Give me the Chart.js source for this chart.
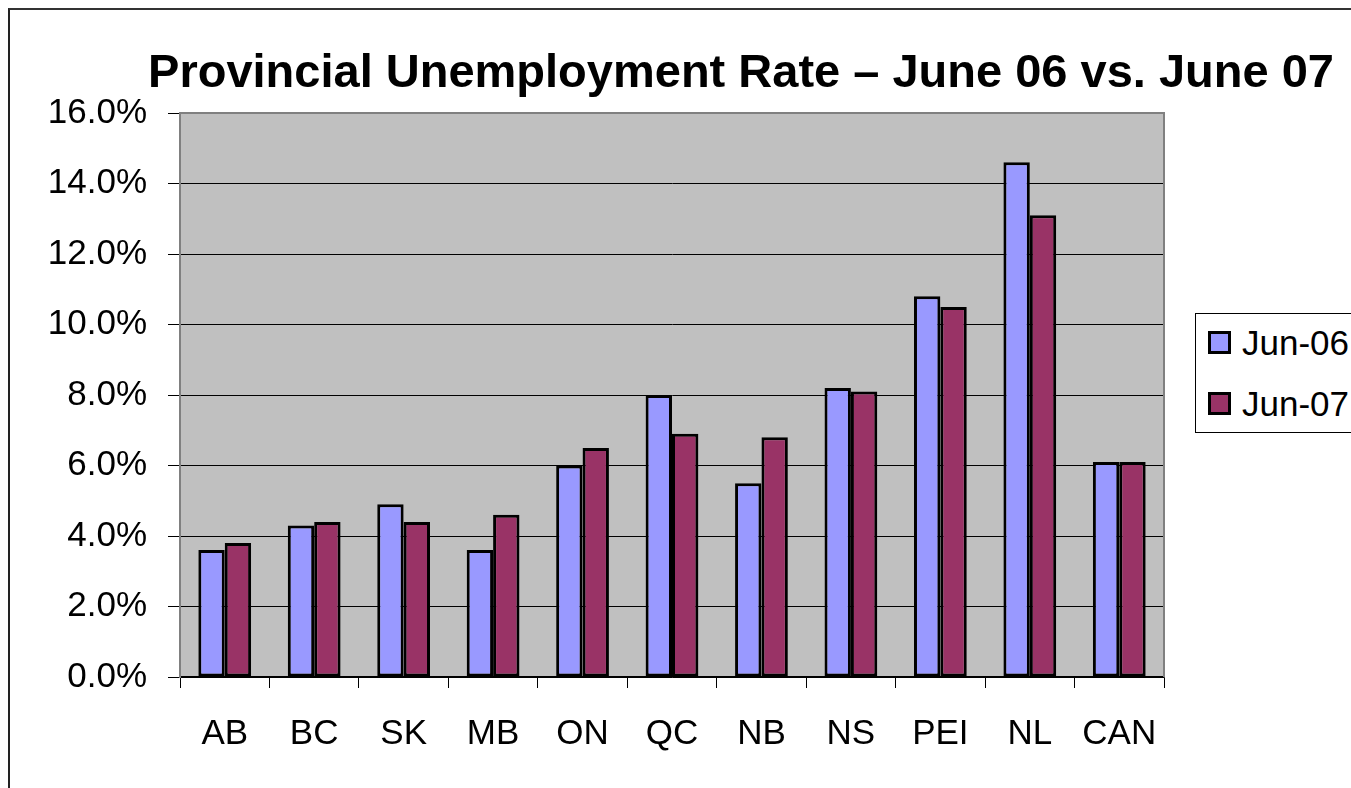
<!DOCTYPE html>
<html>
<head>
<meta charset="utf-8">
<title>Provincial Unemployment Rate</title>
<script src="https://cdn.jsdelivr.net/npm/chart.js@4.4.1/dist/chart.umd.min.js"></script>
<style>
  body { margin: 0; background: #fff; font-family: "Liberation Sans", Arial, sans-serif; }
  #wrap { position: relative; width: 1351px; height: 788px; overflow: hidden; }
  #frame { position: absolute; left: 8px; top: 8px; width: 1400px; height: 800px; border-left: 2px solid #222; border-top: 2px solid #333; }
  #chart { position: absolute; left: 0; top: 0; }
  #title { position: absolute; left: 741px; top: 47px; transform: translateX(-50%); white-space: nowrap;
           font-size: 47px; line-height: 47px; font-weight: bold; color: #000; }
  #legend { position: absolute; left: 1195px; top: 313px; width: 200px; height: 120px; border: 1px solid #000;
            padding-top: 11px; box-sizing: border-box; background: #fff; }
  .item { height: 35px; display: flex; align-items: center; font-size: 35px; color: #000; }
  .item:first-child { margin-bottom: 26px; }
  .swatch { width: 17px; height: 17px; border: 3px solid #000; margin-left: 12px; margin-right: 11px; flex: none; }
</style>
</head>
<body>
<div id="wrap">
  <div id="frame"></div>
  <canvas id="chart" width="1351" height="788"></canvas>
  <div id="title">Provincial Unemployment Rate – June 06 vs. June 07</div>
  <div id="legend"></div>
</div>
<script>
const provinces = ['AB', 'BC', 'SK', 'MB', 'ON', 'QC', 'NB', 'NS', 'PEI', 'NL', 'CAN'];
const jun06 = [3.6, 4.3, 4.9, 3.6, 6.0, 8.0, 5.5, 8.2, 10.8, 14.6, 6.1];
const jun07 = [3.8, 4.4, 4.4, 4.6, 6.5, 6.9, 6.8, 8.1, 10.5, 13.1, 6.1];
const seriesLabels = ['Jun-06', 'Jun-07'];
const seriesColors = ['#9999FF', '#993366'];
const yMin = 0, yMax = 16, yStep = 2;

const font = "'Liberation Sans', Arial, sans-serif";

// grey plot area + grey frame on top/right like the old Excel chart
const plotArea = {
  id: 'plotArea',
  beforeDraw(chart) {
    const { ctx, chartArea: a } = chart;
    ctx.save();
    ctx.fillStyle = '#C0C0C0';
    ctx.fillRect(a.left, a.top, a.width, a.height);
    ctx.restore();
  },
  afterDraw(chart) {
    const { ctx, chartArea: a } = chart;
    ctx.save();
    ctx.strokeStyle = '#808080';
    ctx.lineWidth = 2;
    ctx.beginPath();
    ctx.moveTo(a.left, a.top);
    ctx.lineTo(a.right, a.top);
    ctx.lineTo(a.right, a.bottom);
    ctx.stroke();
    ctx.restore();
  }
};

const datasets = [jun06, jun07].map((d, i) => ({
  label: seriesLabels[i],
  data: d,
  backgroundColor: seriesColors[i],
  borderColor: '#000',
  borderWidth: 3,
  borderSkipped: false,
  categoryPercentage: 0.59,
  barPercentage: 1.0
}));

new Chart(document.getElementById('chart'), {
  type: 'bar',
  data: { labels: provinces, datasets: datasets },
  options: {
    responsive: false,
    animation: false,
    layout: { padding: { top: 113, right: 187, bottom: 0, left: 0 } },
    plugins: { legend: { display: false }, title: { display: false }, tooltip: { enabled: false } },
    scales: {
      x: {
        afterFit: s => { s.height = 111; },
        grid: { offset: true, drawOnChartArea: false, tickLength: 11, color: '#000', tickColor: '#000' },
        border: { color: '#000', width: 1.5 },
        ticks: { color: '#000', font: { family: font, size: 35 }, padding: 25 }
      },
      y: {
        min: yMin, max: yMax,
        afterFit: s => { s.width = 180; },
        grid: { color: '#000', lineWidth: 1, tickLength: 12, tickColor: '#000' },
        border: { color: '#808080', width: 2 },
        ticks: { stepSize: yStep, color: '#000', padding: 21, font: { family: font, size: 35 },
                 callback: v => v.toFixed(1) + '%' }
      }
    }
  },
  plugins: [plotArea]
});

const legend = document.getElementById('legend');
seriesLabels.forEach((lab, i) => {
  const row = document.createElement('div');
  row.className = 'item';
  row.innerHTML = '<span class="swatch" style="background:' + seriesColors[i] + '"></span>' + lab;
  legend.appendChild(row);
});
</script>
</body>
</html>
